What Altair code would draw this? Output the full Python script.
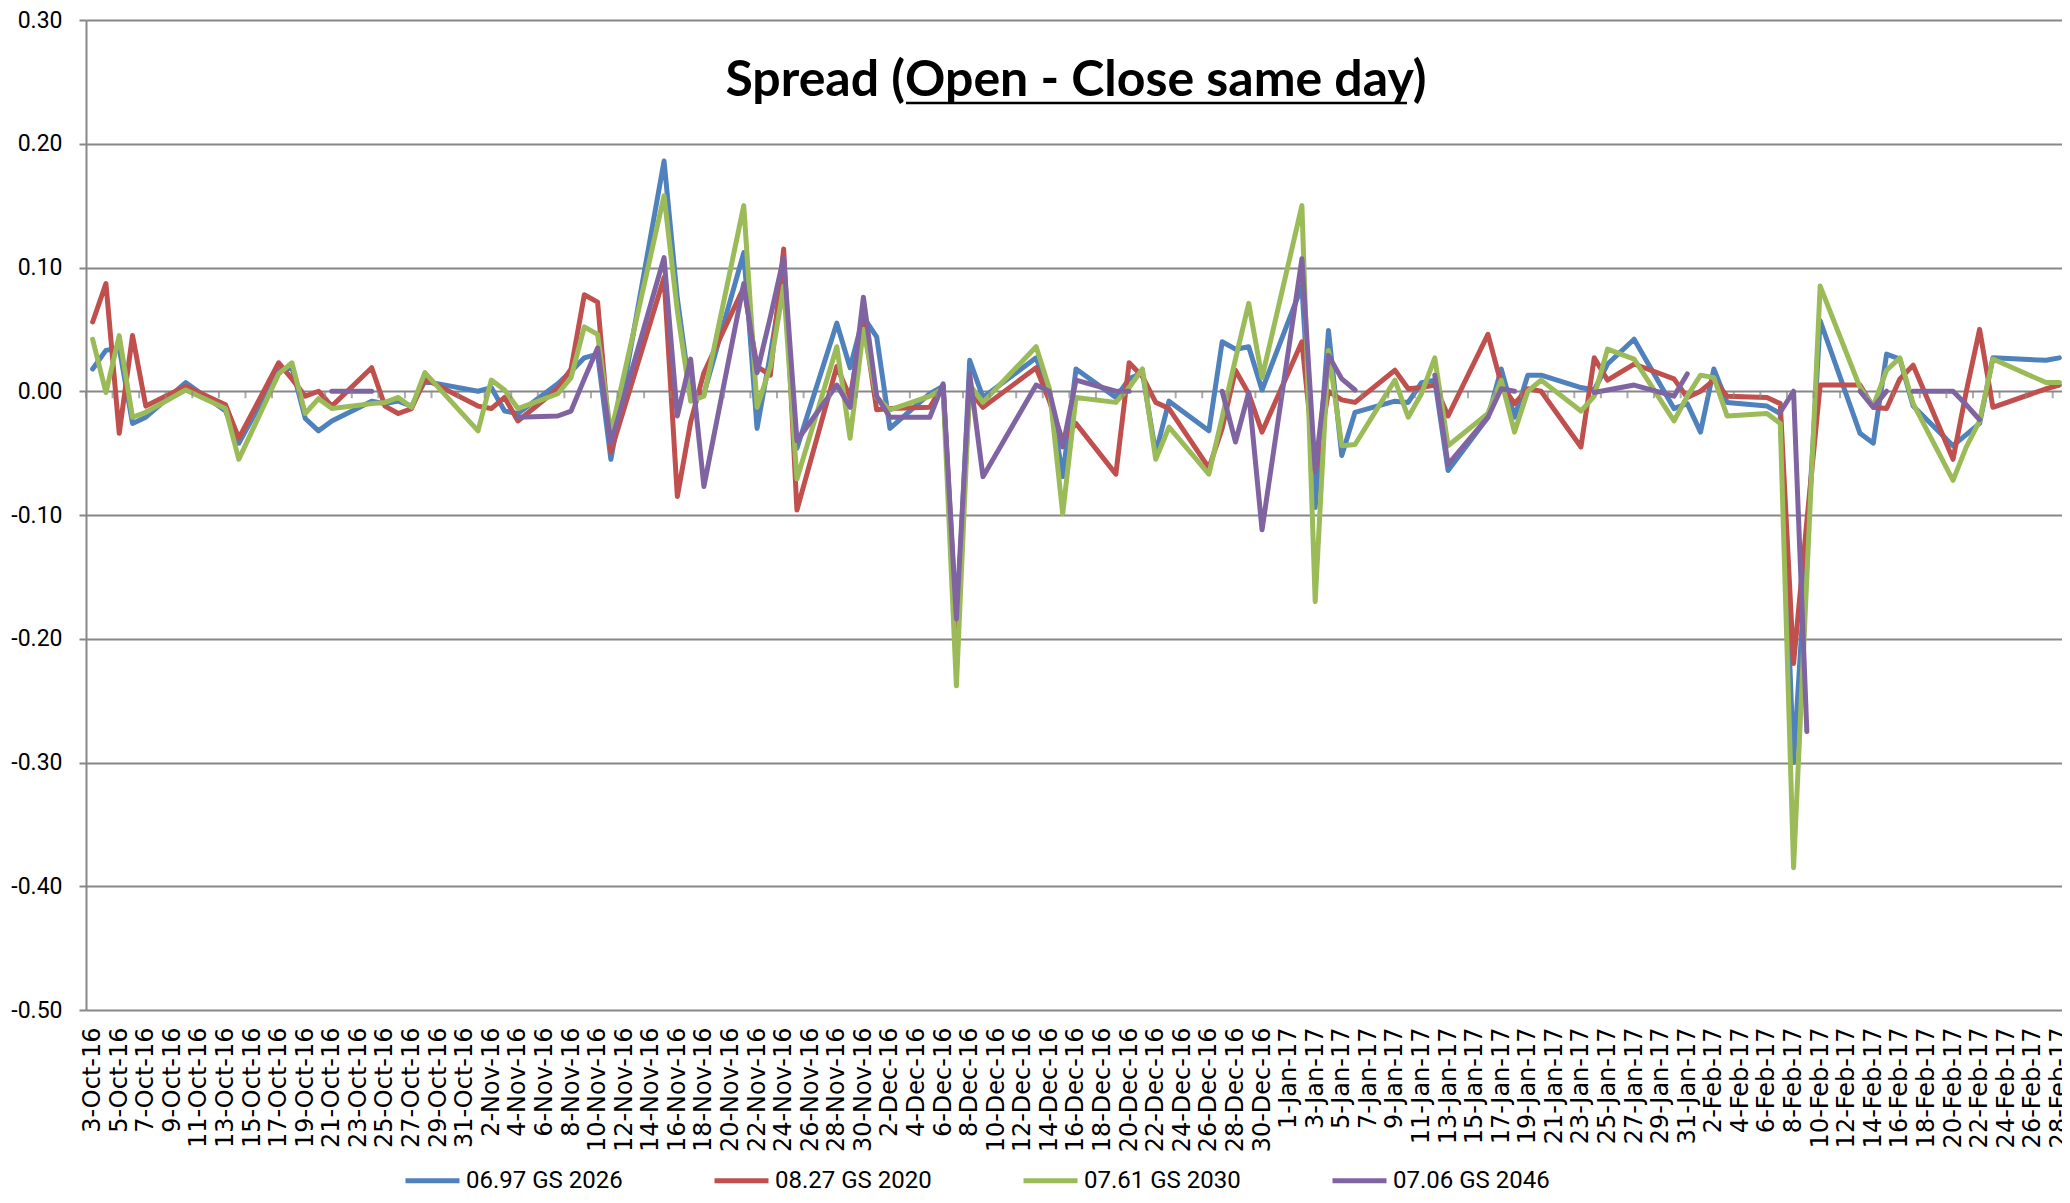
import altair as alt
import pandas as pd

# ---- data ----
dates = [
    "2016-10-03", "2016-10-04", "2016-10-05", "2016-10-06", "2016-10-07", "2016-10-10",
    "2016-10-13", "2016-10-14", "2016-10-17", "2016-10-18", "2016-10-19", "2016-10-20",
    "2016-10-21", "2016-10-24", "2016-10-25", "2016-10-26", "2016-10-27", "2016-10-28",
    "2016-11-01", "2016-11-02", "2016-11-03", "2016-11-04", "2016-11-07", "2016-11-08",
    "2016-11-09", "2016-11-10", "2016-11-11", "2016-11-15", "2016-11-16", "2016-11-17",
    "2016-11-18", "2016-11-21", "2016-11-22", "2016-11-23", "2016-11-24", "2016-11-25",
    "2016-11-28", "2016-11-29", "2016-11-30",
    "2016-12-01", "2016-12-02", "2016-12-05", "2016-12-06", "2016-12-07", "2016-12-08",
    "2016-12-09", "2016-12-13", "2016-12-14", "2016-12-15", "2016-12-16", "2016-12-19",
    "2016-12-20", "2016-12-21", "2016-12-22", "2016-12-23", "2016-12-26", "2016-12-27",
    "2016-12-28", "2016-12-29", "2016-12-30",
    "2017-01-02", "2017-01-03", "2017-01-04", "2017-01-05", "2017-01-06", "2017-01-09",
    "2017-01-10", "2017-01-11", "2017-01-12", "2017-01-13", "2017-01-16", "2017-01-17",
    "2017-01-18", "2017-01-19", "2017-01-20", "2017-01-23", "2017-01-24", "2017-01-25",
    "2017-01-27", "2017-01-30", "2017-01-31",
    "2017-02-01", "2017-02-02", "2017-02-03", "2017-02-06", "2017-02-07", "2017-02-08",
    "2017-02-09", "2017-02-10", "2017-02-13", "2017-02-14", "2017-02-15", "2017-02-16",
    "2017-02-17", "2017-02-20", "2017-02-21", "2017-02-22", "2017-02-23", "2017-02-27",
    "2017-02-28",
]

gs2026 = [
    0.018, 0.033, 0.035, -0.026, -0.021, 0.007, -0.016, -0.042, 0.017, 0.019, -0.022, -0.032,
    -0.024, -0.008, -0.010, -0.008, -0.012, 0.008,
    0.000, 0.003, -0.016, -0.018, 0.006, 0.016, 0.027, 0.030, -0.055, 0.186, 0.075, -0.004,
    -0.002, 0.112, -0.030, 0.030, 0.095, -0.046, 0.055, 0.019, 0.060,
    0.044, -0.030, -0.002, 0.004, -0.200, 0.025, -0.005, 0.027, 0.000, -0.069, 0.018, -0.005,
    0.010, 0.015, -0.050, -0.008, -0.032, 0.040, 0.034, 0.036, 0.001,
    0.085, -0.094, 0.049, -0.052, -0.017, -0.008, -0.009, 0.007, 0.009, -0.064, -0.021, 0.018,
    -0.021, 0.013, 0.013, 0.003, 0.001, 0.022, 0.042, -0.014, -0.010,
    -0.033, 0.018, -0.009, -0.012, -0.018, -0.300, -0.127, 0.057, -0.034, -0.042, 0.030, 0.026,
    -0.012, -0.044, -0.035, -0.026, 0.027, 0.025, 0.027,
]

gs2020 = [
    0.056, 0.087, -0.034, 0.045, -0.012, 0.004, -0.011, -0.038, 0.023, 0.010, -0.004, 0.000,
    -0.012, 0.019, -0.012, -0.018, -0.014, 0.010,
    -0.012, -0.014, -0.005, -0.024, 0.002, 0.018, 0.078, 0.072, -0.049, 0.092, -0.085, -0.025,
    0.015, 0.084, 0.020, 0.013, 0.115, -0.096, 0.020, -0.005, 0.058,
    -0.015, -0.014, -0.013, 0.005, -0.190, 0.000, -0.013, 0.019, -0.008, -0.040, -0.026, -0.067,
    0.023, 0.012, -0.009, -0.014, -0.062, -0.030, 0.017, -0.002, -0.033,
    0.040, -0.065, 0.000, -0.007, -0.009, 0.017, 0.002, 0.003, 0.005, -0.020, 0.046, 0.006,
    -0.010, 0.002, 0.000, -0.045, 0.027, 0.009, 0.022, 0.010, -0.005,
    0.000, 0.009, -0.004, -0.005, -0.010, -0.220, -0.105, 0.005, 0.005, -0.013, -0.014, 0.010,
    0.021, -0.055, 0.000, 0.050, -0.013, 0.002, 0.005,
]

gs2030 = [
    0.042, -0.001, 0.045, -0.021, -0.017, 0.001, -0.014, -0.055, 0.014, 0.023, -0.018, -0.006,
    -0.014, -0.010, -0.009, -0.005, -0.013, 0.015,
    -0.032, 0.009, 0.001, -0.014, -0.002, 0.011, 0.052, 0.046, -0.034, 0.158, 0.065, -0.008,
    -0.004, 0.150, -0.013, 0.020, 0.085, -0.071, 0.036, -0.038, 0.050,
    -0.005, -0.015, -0.004, 0.002, -0.238, 0.005, -0.009, 0.036, 0.002, -0.099, -0.005, -0.009,
    0.003, 0.018, -0.055, -0.029, -0.067, -0.021, 0.026, 0.071, 0.011,
    0.150, -0.170, 0.033, -0.044, -0.043, 0.009, -0.021, -0.002, 0.027, -0.044, -0.018, 0.009,
    -0.033, 0.000, 0.009, -0.016, -0.004, 0.034, 0.026, -0.024, -0.004,
    0.013, 0.011, -0.020, -0.018, -0.026, -0.385, -0.150, 0.085, 0.003, -0.012, 0.017, 0.027,
    -0.010, -0.072, -0.045, -0.024, 0.026, 0.007, 0.007,
]

gs2046 = [
    None, None, None, None, None, None, None, None, None, None, None, None,
    0.000, 0.000, None, None, None, None,
    None, None, None, -0.021, -0.020, -0.016, 0.010, 0.035, -0.042, 0.108, -0.020, 0.026,
    -0.077, 0.087, 0.015, 0.060, 0.108, -0.040, 0.005, -0.013, 0.076,
    -0.004, -0.021, -0.021, 0.006, -0.184, 0.014, -0.069, 0.005, 0.000, -0.045, 0.009, 0.000,
    0.000, None, None, None, None, 0.000, -0.041, -0.001, -0.112,
    0.107, -0.064, 0.029, 0.010, 0.001, None, None, None, 0.013, -0.059, -0.021, 0.002,
    0.000, None, None, None, -0.001, 0.001, 0.005, -0.004, 0.014,
    None, None, None, None, -0.017, 0.000, -0.275, None, 0.000, -0.013, 0.000, None,
    0.000, 0.000, -0.011, -0.023, None, None, None,
]

series_names = ["06.97 GS 2026", "08.27 GS 2020", "07.61 GS 2030", "07.06 GS 2046"]
series_colors = ["#4F81BD", "#C0504D", "#9BBB59", "#8064A2"]
y_ticks = [-0.5, -0.4, -0.3, -0.2, -0.1, 0.0, 0.1, 0.2, 0.3]

# long table; a gap (None) starts a new line segment
rows = []
for name, vals in zip(series_names, [gs2026, gs2020, gs2030, gs2046]):
    seg = 0
    for d, v in zip(dates, vals):
        if v is None:
            seg += 1
            continue
        rows.append({"date": d, "series": name, "seg": f"{name}-{seg}", "value": v})
df = pd.DataFrame(rows)


def ms(s):
    return int(pd.Timestamp(s).value // 10**6)


label_dates = pd.date_range("2016-10-03", "2017-02-28", freq="2D")
label_ms = [int(t.value // 10**6) for t in label_dates]
ticks_df = pd.DataFrame({"date": label_ms})

GRID = "#878787"
W, H = 1976, 990
day_px = W / 148.7

x = alt.X(
    "date:T",
    scale=alt.Scale(type="utc", domain=[ms("2016-10-02 12:00"), ms("2017-02-28 04:48")]),
    axis=alt.Axis(
        values=label_ms, labelExpr="utcFormat(datum.value, '%-d-%b-%y')",
        labelAngle=270, labelAlign="right", labelBaseline="middle",
        labelFont="DejaVu Sans", labelFontSize=24, labelColor="black", labelPadding=17,
        ticks=False, domain=False, grid=False, labelOverlap=False, labelFlush=False,
        labelBound=False,
    ),
    title=None,
)
y = alt.Y(
    "value:Q",
    scale=alt.Scale(domain=[-0.5, 0.3], nice=False, zero=False),
    axis=alt.Axis(
        values=y_ticks,
        labelExpr="(datum.value < -0.0001 ? '-' : '') + format(abs(datum.value), '.2f')",
        grid=True, gridColor=GRID, gridWidth=2,
        domainColor=GRID, domainWidth=2, tickColor=GRID, tickWidth=2, tickSize=7,
        labelPadding=17, labelFont="Roboto", labelFontSize=23, labelColor="black",
    ),
    title=None,
)
color = alt.Color(
    "series:N",
    scale=alt.Scale(domain=series_names, range=series_colors),
    legend=alt.Legend(
        orient="none", legendX=317, legendY=1131, direction="horizontal",
        symbolType="stroke", symbolSize=2916, symbolStrokeWidth=5,
        labelFont="Roboto", labelFontSize=24, labelColor="black", labelOffset=4,
        columnPadding=81, padding=0, labelLimit=400,
    ),
    title=None,
)

base = alt.Chart(df)
line_layers = [
    base.transform_filter(alt.datum.series == name)
    .mark_line(strokeWidth=5, strokeCap="round", strokeJoin="round")
    .encode(x=x, y=y, color=color, detail="seg:N")
    for name in series_names
]

zero_ticks = (
    alt.Chart(ticks_df)
    .mark_tick(orient="vertical", size=7, thickness=2, color=GRID, yOffset=3.5,
               xOffset=-day_px / 2)
    .encode(x=x, y=alt.YDatum(0, title=None))
)

one = alt.Data(values=[{}])
title_a = alt.Chart(one).mark_text(
    text="Spread (", font="Lato", fontSize=50, fontWeight="bold", align="right",
    baseline="alphabetic", color="black",
).encode(x=alt.value(819), y=alt.value(76))
title_b = alt.Chart(one).mark_text(
    text="Open - Close same day)", font="Lato", fontSize=50, fontWeight="bold",
    align="left", baseline="alphabetic", color="black",
).encode(x=alt.value(819), y=alt.value(76))
underline = alt.Chart(one).mark_rule(color="black", strokeWidth=2.5).encode(
    x=alt.value(820), x2=alt.value(1321), y=alt.value(83)
)

chart = (
    alt.layer(*line_layers, zero_ticks, title_a, title_b, underline)
    .properties(
        width=W, height=H,
        autosize=alt.AutoSizeParams(type="none"),
        padding={"left": 78, "top": 12, "right": 0, "bottom": 184},
        background="white",
    )
    .configure_view(strokeWidth=0)
)

chart.save("out.html", embed_options={"renderer": "svg", "actions": False})
